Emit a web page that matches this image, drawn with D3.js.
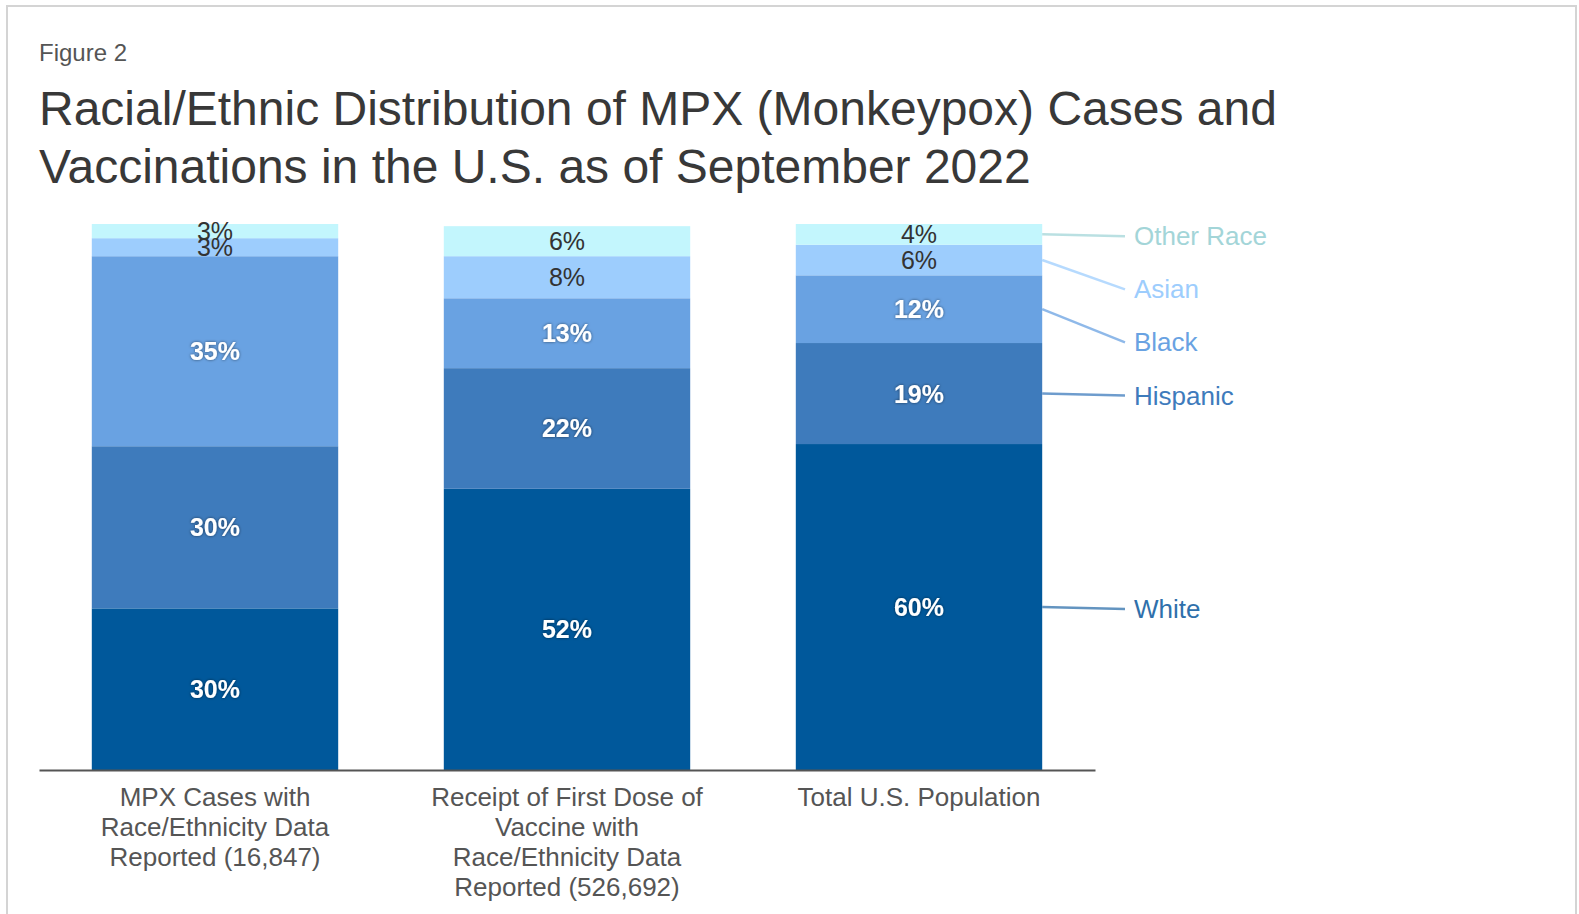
<!DOCTYPE html>
<html>
<head>
<meta charset="utf-8">
<script src="https://cdn.jsdelivr.net/npm/d3@7"></script>
<style>
  html, body { margin: 0; padding: 0; background: #fff; }
  svg { display: block; font-family: "Liberation Sans", Arial, sans-serif; }
</style>
</head>
<body>
<svg id="chart" width="1579" height="914"></svg>
<script>
// Data
const categoryLines = [
  ['MPX Cases with', 'Race/Ethnicity Data', 'Reported (16,847)'],
  ['Receipt of First Dose of', 'Vaccine with', 'Race/Ethnicity Data', 'Reported (526,692)'],
  ['Total U.S. Population']
]
const seriesNames = ['White', 'Hispanic', 'Black', 'Asian', 'Other Race']
const whiteVals = [29.6, 51.5, 59.7]
const hispanicVals = [29.7, 22.1, 18.5]
const blackVals = [34.8, 12.8, 12.4]
const asianVals = [3.3, 7.7, 5.6]
const otherVals = [2.6, 5.5, 3.8]

const seriesColors = ['#00589b', '#3e7bbc', '#69a2e2', '#9dcdfd', '#c3f6fd']
const legendTextColors = ['#2f70ab', '#3e7bbc', '#69a2e2', '#9dcdfd', '#a3d5d8']
const labelDark = [false, false, false, true, true]

const svg = d3.select('#chart')

// frame
svg.append('rect')
  .attr('x', 7).attr('y', 6)
  .attr('width', 1569).attr('height', 940)
  .attr('fill', 'none')
  .attr('stroke', '#d4d4d4')
  .attr('stroke-width', 2)

// shadow for white labels
const defs = svg.append('defs')
defs.append('filter')
  .attr('id', 'shadow')
  .attr('x', '-20%').attr('y', '-40%').attr('width', '140%').attr('height', '180%')
  .append('feDropShadow')
  .attr('dx', 0).attr('dy', 0).attr('stdDeviation', 1.4)
  .attr('flood-color', '#000').attr('flood-opacity', 0.55)

// Titles
svg.append('text')
  .attr('x', 39).attr('y', 61)
  .style('font-size', '24px')
  .style('fill', '#555')
  .text('Figure 2')

const titleLines = ['Racial/Ethnic Distribution of MPX (Monkeypox) Cases and', 'Vaccinations in the U.S. as of September 2022']
svg.append('g').selectAll('text')
  .data(titleLines)
  .join('text')
  .attr('x', 39)
  .attr('y', (d, i) => 125 + i * 58)
  .style('font-size', '48px')
  .style('fill', '#383838')
  .text(d => d)

// Build table
const data = categoryLines.map((c, i) => ({
  idx: i,
  White: whiteVals[i],
  Hispanic: hispanicVals[i],
  Black: blackVals[i],
  Asian: asianVals[i],
  'Other Race': otherVals[i]
}))

const stack = d3.stack().keys(seriesNames)(data)

const x = d3.scaleBand()
  .domain(data.map(d => d.idx))
  .range([39, 1095])
  .paddingInner(0.3)
  .paddingOuter(0.15)

const y = d3.scaleLinear()
  .domain([0, 100])
  .range([770, 224])

const color = d3.scaleOrdinal().domain(seriesNames).range(seriesColors)

// Bars
const layers = svg.append('g')
  .selectAll('g')
  .data(stack)
  .join('g')
  .attr('fill', d => color(d.key))

layers.selectAll('rect')
  .data(d => d)
  .join('rect')
  .attr('x', d => x(d.data.idx))
  .attr('y', d => y(d[1]))
  .attr('width', x.bandwidth())
  .attr('height', d => y(d[0]) - y(d[1]))

// Value labels
stack.forEach((layer, si) => {
  const dark = labelDark[si]
  svg.append('g')
    .selectAll('text')
    .data(layer)
    .join('text')
    .attr('x', d => x(d.data.idx) + x.bandwidth() / 2)
    .attr('y', d => (y(d[0]) + y(d[1])) / 2)
    .attr('dy', '0.36em')
    .attr('text-anchor', 'middle')
    .style('font-size', '25px')
    .style('font-weight', dark ? 'normal' : 'bold')
    .style('fill', dark ? '#333' : '#fff')
    .attr('filter', dark ? null : 'url(#shadow)')
    .text(d => Math.round(d[1] - d[0]) + '%')
})

// X axis
const xAxis = svg.append('g')
  .attr('transform', 'translate(0,770)')
  .call(d3.axisBottom(x).tickSize(0).tickFormat(''))
xAxis.select('.domain').attr('stroke', '#555').attr('stroke-width', 2)

svg.append('g')
  .selectAll('text')
  .data(data)
  .join('text')
  .attr('x', d => x(d.idx) + x.bandwidth() / 2)
  .attr('y', 806)
  .attr('text-anchor', 'middle')
  .style('font-size', '26px')
  .style('fill', '#555')
  .selectAll('tspan')
  .data(d => categoryLines[d.idx])
  .join('tspan')
  .attr('x', function () { return d3.select(this.parentNode).attr('x') })
  .attr('dy', (d, i) => i === 0 ? 0 : 30)
  .text(d => d)

// Direct legend on last bar
const last = data.length - 1
const barRight = x(last) + x.bandwidth()
let prev = -Infinity
const legendItems = stack.map((layer, si) => ({
  key: layer.key,
  si,
  cy: (y(layer[last][0]) + y(layer[last][1])) / 2
})).reverse()
legendItems.forEach(d => {
  d.ly = Math.max(d.cy + 2, prev + 53)
  prev = d.ly
})

const legend = svg.append('g')
legend.selectAll('line')
  .data(legendItems)
  .join('line')
  .attr('x1', barRight)
  .attr('y1', d => d.cy)
  .attr('x2', 1125)
  .attr('y2', d => d.ly)
  .attr('stroke', d => legendTextColors[d.si])
  .attr('stroke-opacity', 0.75)
  .attr('stroke-width', 2.5)

legend.selectAll('text')
  .data(legendItems)
  .join('text')
  .attr('x', 1134)
  .attr('y', d => d.ly)
  .attr('dy', '0.35em')
  .style('font-size', '26px')
  .style('fill', d => legendTextColors[d.si])
  .text(d => d.key)
</script>
</body>
</html>
